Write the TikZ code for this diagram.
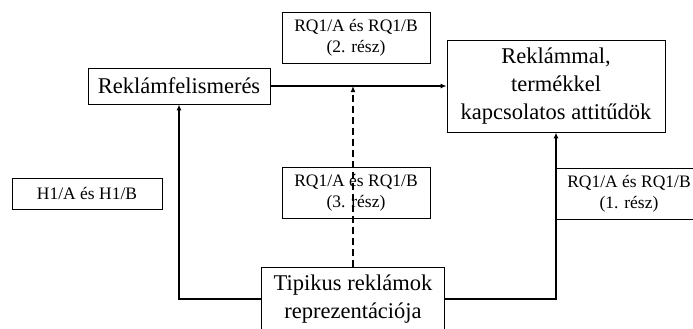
\documentclass[tikz,border=0pt]{standalone}
\usepackage{fontspec}
\setmainfont{Liberation Serif}
\usetikzlibrary{arrows.meta}
\tikzset{
  box/.style={draw=black, line width=0.9pt, fill=white, align=center, inner sep=0pt, anchor=center},
  big/.style={font=\fontsize{22.5}{28}\selectfont},
  small/.style={font=\fontsize{17.5}{21}\selectfont},
  conn/.style={line width=1.7pt, -{Latex[length=6pt,width=5pt]}},
  dconn/.style={conn, line width=2pt, dash pattern=on 7pt off 4pt}
}
\begin{document}
\begin{tikzpicture}[x=1pt,y=-1pt]
\useasboundingbox (0,0) rectangle (693,329);
\node[box,big,minimum width=182pt,minimum height=36pt] (rf) at (179,86) {Reklámfelismerés};
\node[box,small,minimum width=148pt,minimum height=51pt] (rq2) at (356,37.5) {RQ1/A és RQ1/B\\(2. rész)};
\node[box,big,minimum width=218pt,minimum height=92pt] (att) at (556,86) {Reklámmal,\\termékkel\\kapcsolatos attitűdök};
\node[box,small,minimum width=150pt,minimum height=31pt] (h1) at (87,193.5) {H1/A és H1/B};
\node[box,small,minimum width=148pt,minimum height=51pt] (rq3) at (356,192.5) {RQ1/A és RQ1/B\\(3. rész)};
\node[box,small,minimum width=146pt,minimum height=51pt] (rq1) at (629,193.5) {RQ1/A és RQ1/B\\(1. rész)};
\node[box,big,minimum width=183pt,minimum height=64pt] (tip) at (353,299) {Tipikus reklámok\\reprezentációja};
\draw[conn] (rf.east) -- (att.west);
\draw[dconn] (tip.north) -- (tip.north |- rf.east);
\draw[conn] (tip.west) -| (rf.south);
\draw[conn] (tip.east) -| (att.south);
\end{tikzpicture}
\end{document}
